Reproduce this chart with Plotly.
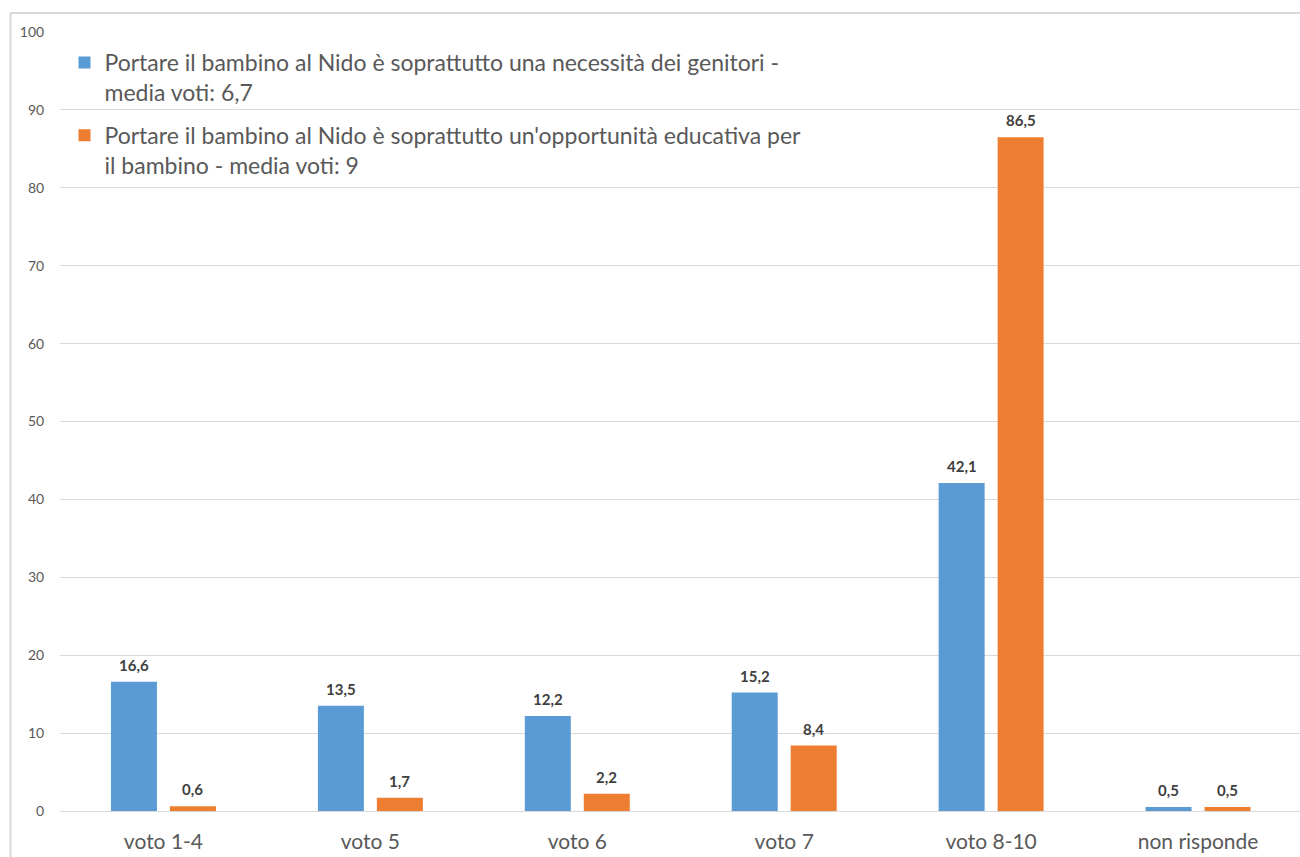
import plotly.graph_objects as go

# Survey categories and percentages per statement
categories = ["voto 1-4", "voto 5", "voto 6", "voto 7", "voto 8-10", "non risponde"]
necessita = [16.6, 13.5, 12.2, 15.2, 42.1, 0.5]
opportunita = [0.6, 1.7, 2.2, 8.4, 86.5, 0.5]
series_names = [
    "Portare il bambino al Nido è soprattutto una necessità dei genitori -<br>media voti: 6,7",
    "Portare il bambino al Nido è soprattutto un'opportunità educativa per<br>il bambino - media voti: 9",
]
y_ticks = [0, 10, 20, 30, 40, 50, 60, 70, 80, 90, 100]

BLUE = "#5B9BD5"
ORANGE = "#ED7D31"
TEXT = "#595959"
LABEL = "#404040"
GRID = "#D9D9D9"
FONT = "Lato, sans-serif"

W, H = 1300, 857
ML, MT, MB = 59.5, 32, 46
plot_w = W - ML
plot_h = H - MT - MB
cat_px = 207.0
x_max = -0.5 + plot_w / cat_px

fig = go.Figure()
for name, vals, color, grp in [(series_names[0], necessita, BLUE, "a"),
                               (series_names[1], opportunita, ORANGE, "b")]:
    fig.add_trace(go.Bar(
        x=categories, y=vals, name=name, marker_color=color,
        marker_line_width=0, legendgroup=grp,
    ))

# value labels above each bar
half = 29.5
for vals, shift in [(necessita, -half), (opportunita, half)]:
    for c, v in zip(categories, vals):
        fig.add_annotation(
            x=c, y=v, xref="x", yref="y", text=f"<b>{v:.1f}</b>".replace(".", ","),
            showarrow=False, xshift=shift, yanchor="bottom", yshift=6,
            font=dict(family=FONT, size=15, color=LABEL),
        )

# chart area border (left and top edges)
top = 1 + (MT - 13) / plot_h
left = (10 - ML) / plot_w
fig.add_shape(type="line", xref="paper", yref="paper",
              x0=left, x1=left, y0=-0.2, y1=top,
              line=dict(color=GRID, width=2), layer="below")
fig.add_shape(type="line", xref="paper", yref="paper",
              x0=left, x1=1.2, y0=top, y1=top,
              line=dict(color=GRID, width=2), layer="below")

fig.update_layout(
    width=W, height=H,
    margin=dict(l=ML, r=0, t=MT, b=MB, pad=0, autoexpand=False),
    paper_bgcolor="white", plot_bgcolor="white",
    barmode="group", bargap=0.43, bargroupgap=0.22,
    font=dict(family=FONT, color=TEXT),
    legend=dict(
        x=(64 - ML) / plot_w, y=1 - (41 - MT) / plot_h,
        xanchor="left", yanchor="top",
        font=dict(family=FONT, size=23, color=TEXT),
        bgcolor="rgba(0,0,0,0)", valign="top",
        tracegroupgap=10, itemwidth=30,
    ),
    showlegend=True,
)
fig.update_xaxes(
    range=[-0.5, x_max], showgrid=False, showline=False, automargin=False,
    ticks="outside", ticklen=12, tickcolor="rgba(0,0,0,0)",
    tickfont=dict(family=FONT, size=21, color=TEXT), fixedrange=True,
)
fig.update_yaxes(
    range=[0, 100], tickvals=y_ticks, showgrid=True, gridcolor=GRID, gridwidth=1,
    zeroline=True, zerolinecolor=GRID, zerolinewidth=1, showline=False,
    automargin=False,
    ticks="outside", ticklen=12, tickcolor="rgba(0,0,0,0)",
    tickfont=dict(family=FONT, size=14, color=TEXT),
)

fig.write_html("out.html")
